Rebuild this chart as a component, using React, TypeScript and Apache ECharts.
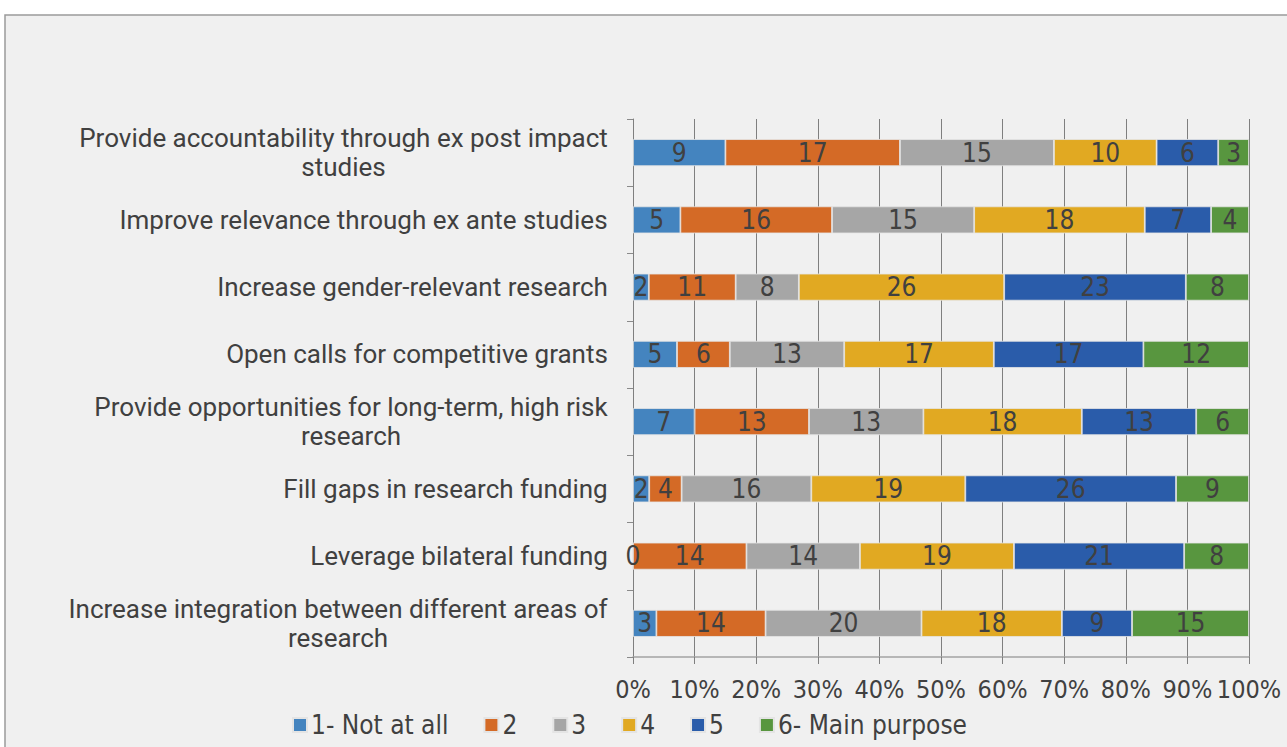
import React, { useEffect, useRef } from "react";
import * as echarts from "echarts";

const categories = [
  "Provide accountability through ex post impact studies",
  "Improve relevance through ex ante studies",
  "Increase gender-relevant research",
  "Open calls for competitive grants",
  "Provide opportunities for long-term, high risk research",
  "Fill gaps in research funding",
  "Leverage bilateral funding",
  "Increase integration between different areas of research",
];

const seriesNames = ["1- Not at all", "2", "3", "4", "5", "6- Main purpose"];

const notAtAll = [9, 5, 2, 5, 7, 2, 0, 3];
const level2 = [17, 16, 11, 6, 13, 4, 14, 14];
const level3 = [15, 15, 8, 13, 13, 16, 14, 20];
const level4 = [10, 18, 26, 17, 18, 19, 19, 18];
const level5 = [6, 7, 23, 17, 13, 26, 21, 9];
const mainPurpose = [3, 4, 8, 12, 6, 9, 8, 15];

const colors = ["#4484bf", "#d46a26", "#a6a6a6", "#e1a922", "#2a5caa", "#58963f"];

const CAT_FONT = "Roboto";
const CAT_SIZE = 26;
const NARROW = "'Liberation Sans Narrow', 'DejaVu Sans Condensed', sans-serif";
const TEXT_COLOR = "#404040";

function wrapLabel(text: string, maxWidth: number, ctx: CanvasRenderingContext2D): string[] {
  const words = text.split(" ");
  const lines: string[] = [];
  let cur = "";
  for (const w of words) {
    const test = cur ? cur + " " + w : w;
    if (ctx.measureText(test).width > maxWidth && cur) {
      lines.push(cur);
      cur = w;
    } else {
      cur = test;
    }
  }
  if (cur) lines.push(cur);
  return lines;
}

export default function App() {
  const ref = useRef<HTMLDivElement>(null);

  useEffect(() => {
    if (!ref.current) return;
    const chart = echarts.init(ref.current, undefined, { renderer: "svg" });

    const canvas = document.createElement("canvas");
    const ctx = canvas.getContext("2d") as CanvasRenderingContext2D;
    ctx.font = `${CAT_SIZE}px ${CAT_FONT}`;
    const wrapped = categories.map((c) => wrapLabel(c, 565, ctx));
    const rich: Record<string, any> = {};
    wrapped.forEach((lines, i) => {
      const w = Math.max(...lines.map((l) => ctx.measureText(l).width));
      rich["c" + i] = {
        width: Math.ceil(w) + 2,
        align: "center",
        fontFamily: CAT_FONT,
        fontSize: CAT_SIZE,
        color: TEXT_COLOR,
        lineHeight: 29,
      };
    });

    const all = [notAtAll, level2, level3, level4, level5, mainPurpose];
    const totals = categories.map((_, i) => all.reduce((s, arr) => s + arr[i], 0));

    const series = all.map((arr, si) => ({
      name: seriesNames[si],
      type: "bar",
      stack: "total",
      barWidth: 27,
      itemStyle: { color: colors[si], borderColor: "#e4e4e4", borderWidth: 0.8 },
      label: {
        show: true,
        position: "inside",
        color: TEXT_COLOR,
        fontFamily: NARROW,
        fontSize: 26,
        formatter: (p: any) => String(p.data.raw),
      },
      data: arr.map((v, i) => ({ value: (v / totals[i]) * 100, raw: v })),
    }));

    chart.setOption({
      animation: false,
      backgroundColor: "#ffffff",
      color: colors,
      graphic: [
        {
          type: "rect",
          z: -100,
          shape: { x: 5, y: 15, width: 1300, height: 750 },
          style: { fill: "#f0f0f0", stroke: "#9a9a9a", lineWidth: 1.5 },
        },
      ],
      grid: { left: 633, right: 38, top: 119, bottom: 90, containLabel: false },
      legend: {
        left: 292,
        top: 712,
        padding: 0,
        itemWidth: 14,
        itemHeight: 14,
        itemGap: 35,
        icon: "rect",
        textStyle: { color: TEXT_COLOR, fontFamily: NARROW, fontSize: 26, padding: [2, 0, 0, -1] },
        data: seriesNames,
      },
      xAxis: {
        type: "value",
        min: 0,
        max: 100,
        interval: 10,
        axisLine: { show: true, lineStyle: { color: "#a3a3a3", width: 1.5 } },
        axisTick: { show: true, length: 7, lineStyle: { color: "#7f7f7f" } },
        splitLine: { show: true, lineStyle: { color: "#7f7f7f", width: 1 } },
        axisLabel: {
          formatter: "{value}%",
          color: TEXT_COLOR,
          fontFamily: NARROW,
          fontSize: 25,
          margin: 20,
        },
      },
      yAxis: {
        type: "category",
        inverse: true,
        data: categories,
        axisLine: { show: true, lineStyle: { color: "#7f7f7f", width: 1 } },
        axisTick: { show: true, length: 6, lineStyle: { color: "#8a8a8a" } },
        axisLabel: {
          margin: 24,
          align: "right",
          formatter: (_v: string, idx: number) =>
            wrapped[idx].map((l) => `{c${idx}|${l}}`).join("\n"),
          rich,
        },
      },
      series,
    });

    return () => chart.dispose();
  }, []);

  return (
    <div
      ref={ref}
      style={{ position: "fixed", left: 0, top: 0, width: 1287, height: 747 }}
    />
  );
}
